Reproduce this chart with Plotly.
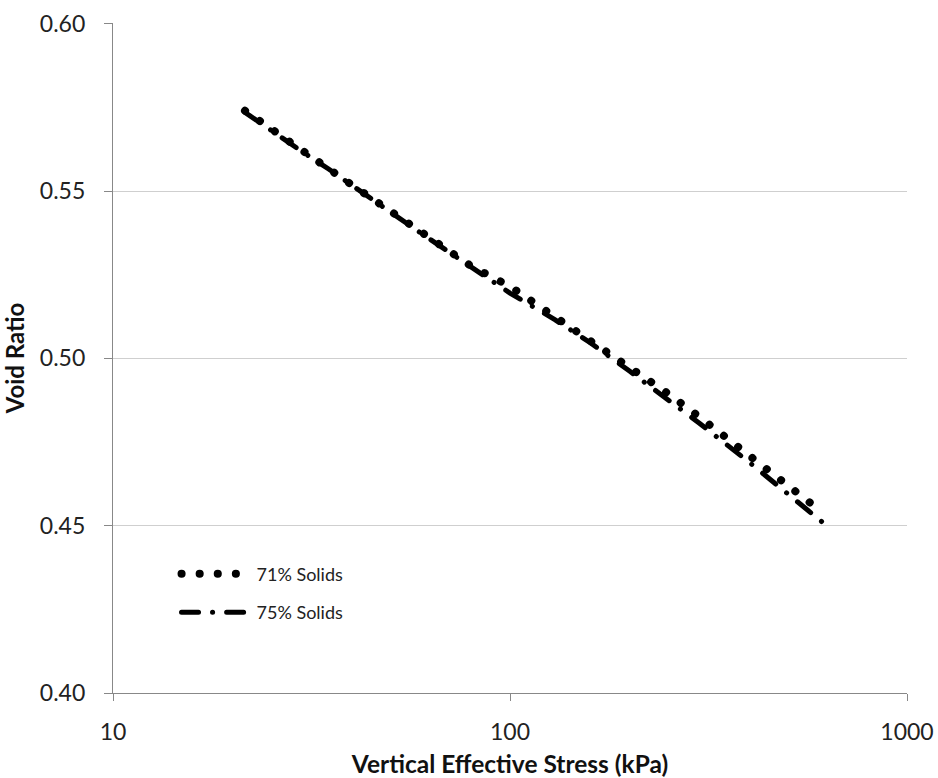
import plotly.graph_objects as go

# Vertical effective stress (kPa) and void ratio for each slurry
stress_71 = [21.5, 25, 30, 35, 40, 50, 60, 70, 80, 100, 130, 160, 200, 250, 300, 400, 500, 600]
void_71 = [0.5740, 0.5685, 0.5620, 0.5567, 0.5518, 0.5440, 0.5376, 0.5322, 0.5275, 0.5215,
           0.5125, 0.5055, 0.4975, 0.4895, 0.4825, 0.4712, 0.4623, 0.4548]

stress_75 = [21.5, 25, 30, 35, 40, 50, 60, 70, 80, 100, 130, 160, 200, 250, 300, 400, 500, 620]
void_75 = [0.5735, 0.5680, 0.5617, 0.5565, 0.5516, 0.5437, 0.5372, 0.5318, 0.5270, 0.5195,
           0.5115, 0.5045, 0.4962, 0.4878, 0.4806, 0.4690, 0.4598, 0.4505]

series_names = ["71% Solids", "75% Solids"]
x_ticks = [10, 100, 1000]
y_ticks = [0.40, 0.45, 0.50, 0.55, 0.60]

FONT = "Lato"

fig = go.Figure()
fig.add_trace(go.Scatter(
    x=stress_71, y=void_71, mode="lines", name=series_names[0], legendgroup="s71",
    line=dict(color="black", width=8, dash="0.1px,18px"),
))
fig.add_trace(go.Scatter(
    x=stress_75, y=void_75, mode="lines", name=series_names[1], legendgroup="s75",
    line=dict(color="black", width=5, dash="17px,14px,0.1px,14px"),
))

fig.update_layout(
    width=938, height=778,
    margin=dict(l=113, r=31, t=23, b=85),
    paper_bgcolor="white", plot_bgcolor="white",
    font=dict(family=FONT, color="#222222"),
    showlegend=True,
    legend=dict(
        x=0.08, y=0.205, xanchor="left", yanchor="top",
        bgcolor="rgba(0,0,0,0)",
        font=dict(family=FONT, size=18, color="#222222"),
        itemwidth=70, tracegroupgap=12,
    ),
    xaxis=dict(
        type="log", range=[1, 3], automargin=False,
        tickvals=x_ticks, ticktext=[str(v) for v in x_ticks],
        showgrid=False, showline=True, linecolor="#888888", linewidth=1.3,
        ticks="outside", ticklen=7, tickcolor="#888888",
        tickfont=dict(family=FONT, size=23, color="#222222"),
        ticklabelstandoff=11,
        title=dict(text="<b>Vertical Effective Stress (kPa)</b>",
                   font=dict(family=FONT, size=24.5, color="#111111"), standoff=20),
        zeroline=False,
    ),
    yaxis=dict(
        range=[0.40, 0.6002], automargin=False,
        tickvals=y_ticks, ticktext=[f"{v:.2f}" for v in y_ticks],
        showgrid=True, gridcolor="#cfcfcf", gridwidth=1.3,
        showline=True, linecolor="#888888", linewidth=1.3,
        ticks="outside", ticklen=8, tickcolor="#888888",
        tickfont=dict(family=FONT, size=23, color="#222222"),
        ticklabelstandoff=14,
        title=dict(text="<b>Void Ratio</b>",
                   font=dict(family=FONT, size=24, color="#111111"), standoff=16),
        zeroline=False,
    ),
)

post = """
var s = document.createElement('style');
s.textContent = 'html, body { margin: 0 !important; padding: 0 !important; overflow: hidden; } .js-line { stroke-linecap: round !important; }';
document.head.appendChild(s);
"""

fig.write_html("out.html", post_script=post, config={"displayModeBar": False})
